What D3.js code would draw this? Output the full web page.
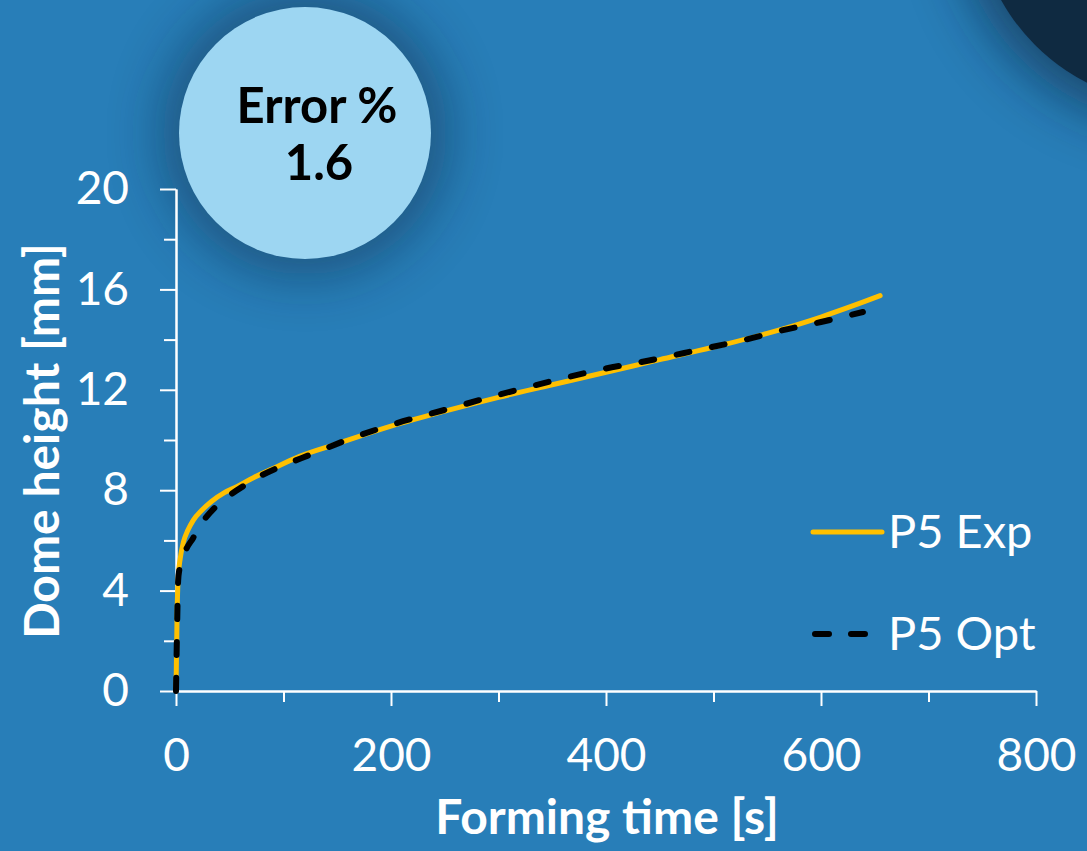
<!DOCTYPE html>
<html>
<head>
<meta charset="utf-8">
<script src="https://cdn.jsdelivr.net/npm/d3@7"></script>
<style>
  html, body { margin: 0; padding: 0; background: #287eb8; }
  svg { display: block; font-family: Lato, "Open Sans", sans-serif; }
</style>
</head>
<body>
<svg id="chart" width="1087" height="851"></svg>
<script>
// ---- data ----
const expTime   = [0, 0.5, 1, 2, 4, 7, 11, 16, 24, 33, 45, 57, 72, 87, 115, 150, 200, 250, 300, 350, 400, 450, 500, 550, 600, 630, 655];
const expHeight = [0, 1.5, 3.0, 4.5, 5.3, 5.95, 6.4, 6.8, 7.2, 7.55, 7.9, 8.15, 8.5, 8.8, 9.35, 9.85, 10.55, 11.15, 11.7, 12.2, 12.7, 13.2, 13.7, 14.25, 14.9, 15.35, 15.75];
const optTime   = [0, 1, 2, 3, 5, 8, 16, 25, 36, 50, 64, 80, 95, 127, 162, 200, 250, 300, 350, 400, 432, 487, 530, 562, 600, 639];
const optHeight = [0, 2.5, 4.4, 4.8, 5.1, 5.5, 6.1, 6.75, 7.3, 7.8, 8.2, 8.6, 8.9, 9.45, 10.05, 10.6, 11.2, 11.8, 12.35, 12.85, 13.1, 13.6, 14.0, 14.35, 14.7, 15.1];
const xMajorTicks = [0, 200, 400, 600, 800];
const xMinorTicks = [100, 300, 500, 700];
const yMajorTicks = [0, 4, 8, 12, 16, 20];
const yMinorTicks = [2, 6, 10, 14, 18];
const seriesNames = ["P5 Exp", "P5 Opt"];
const errorLabel = ["Error %", "1.6"];
const xTitle = "Forming time [s]";
const yTitle = "Dome height [mm]";

// ---- drawing ----
const svg = d3.select("#chart");
const W = 1087, H = 851;
const FONT = "Lato, 'Open Sans', sans-serif";
const x = d3.scaleLinear().domain([0, 800]).range([176, 1036]);
const y = d3.scaleLinear().domain([0, 20]).range([691, 189]);

const defs = svg.append("defs");
defs.append("filter").attr("id", "blur").attr("x", "-60%").attr("y", "-60%").attr("width", "220%").attr("height", "220%")
  .append("feGaussianBlur").attr("stdDeviation", 28);

svg.append("rect").attr("width", W).attr("height", H).attr("fill", "#287eb8");

// shadows
svg.append("circle").attr("cx", 1180).attr("cy", -100).attr("r", 225)
  .attr("fill", "#0b2238").attr("opacity", 0.6).attr("filter", "url(#blur)");
svg.append("circle").attr("cx", 305).attr("cy", 133).attr("r", 142)
  .attr("fill", "#0b2238").attr("opacity", 0.45).attr("filter", "url(#blur)");

// dark corner circle
svg.append("circle").attr("cx", 1180).attr("cy", -100).attr("r", 205).attr("fill", "#0f2a41");

// axes
const axisColor = "#ffffff";
function styleAxis(g) {
  g.attr("font-family", FONT);
  g.selectAll("path.domain").attr("stroke", axisColor).attr("stroke-width", 2);
  g.selectAll(".tick line").attr("stroke", axisColor).attr("stroke-width", 2);
  g.selectAll(".tick text").attr("fill", "#ffffff").attr("font-size", 46).attr("font-weight", 400)
    .attr("font-family", FONT);
}
const yMinor = svg.append("g").attr("transform", `translate(${x(0)},0)`)
  .call(d3.axisLeft(y).tickValues(yMinorTicks).tickSize(12).tickSizeOuter(0).tickFormat(""));
styleAxis(yMinor);
const yMajor = svg.append("g").attr("transform", `translate(${x(0)},0)`)
  .call(d3.axisLeft(y).tickValues(yMajorTicks).tickSize(16).tickSizeOuter(0).tickPadding(31).tickFormat(d3.format("d")));
styleAxis(yMajor);

const xMinor = svg.append("g").attr("transform", `translate(0,${y(0)})`)
  .call(d3.axisBottom(x).tickValues(xMinorTicks).tickSize(11).tickSizeOuter(0).tickFormat(""));
styleAxis(xMinor);
const xMajor = svg.append("g").attr("transform", `translate(0,${y(0)})`)
  .call(d3.axisBottom(x).tickValues(xMajorTicks).tickSize(15).tickSizeOuter(0).tickPadding(32).tickFormat(d3.format("d")));
styleAxis(xMajor);

// axis titles
svg.append("text").attr("x", 607).attr("y", 834).attr("text-anchor", "middle")
  .attr("fill", "#fff").attr("font-size", 48).attr("font-weight", 700).text(xTitle);
svg.append("text").attr("transform", "translate(59,441) rotate(-90)").attr("text-anchor", "middle")
  .attr("fill", "#fff").attr("font-size", 48).attr("font-weight", 700).text(yTitle);

// lines
const line = d3.line().x(d => x(d[0])).y(d => y(d[1])).curve(d3.curveMonotoneX);
const expData = expTime.map((t, i) => [t, expHeight[i]]);
const optData = optTime.map((t, i) => [t, optHeight[i]]);

svg.append("path").datum(expData).attr("d", line)
  .attr("fill", "none").attr("stroke", "#ffc000").attr("stroke-width", 5).attr("stroke-linecap", "round");
svg.append("path").datum(optData).attr("d", line)
  .attr("fill", "none").attr("stroke", "#000").attr("stroke-width", 6)
  .attr("stroke-dasharray", "13 23").attr("stroke-linecap", "round");

// legend
const legend = svg.append("g");
legend.append("line").attr("x1", 813).attr("x2", 882).attr("y1", 532).attr("y2", 532)
  .attr("stroke", "#ffc000").attr("stroke-width", 5).attr("stroke-linecap", "round");
legend.append("line").attr("x1", 815).attr("x2", 868).attr("y1", 634).attr("y2", 634)
  .attr("stroke", "#000").attr("stroke-width", 6).attr("stroke-dasharray", "14 22").attr("stroke-linecap", "round");
legend.append("text").attr("x", 888).attr("y", 548).attr("fill", "#fff").attr("font-size", 47).text(seriesNames[0]);
legend.append("text").attr("x", 888).attr("y", 650).attr("fill", "#fff").attr("font-size", 47).text(seriesNames[1]);

// error bubble
svg.append("circle").attr("cx", 305).attr("cy", 133).attr("r", 126).attr("fill", "#9dd6f2");
svg.append("text").attr("x", 317).attr("y", 123).attr("text-anchor", "middle")
  .attr("fill", "#000").attr("font-size", 49).attr("font-weight", 700).text(errorLabel[0]);
svg.append("text").attr("x", 319).attr("y", 180).attr("text-anchor", "middle")
  .attr("fill", "#000").attr("font-size", 49).attr("font-weight", 700).text(errorLabel[1]);
</script>
</body>
</html>
